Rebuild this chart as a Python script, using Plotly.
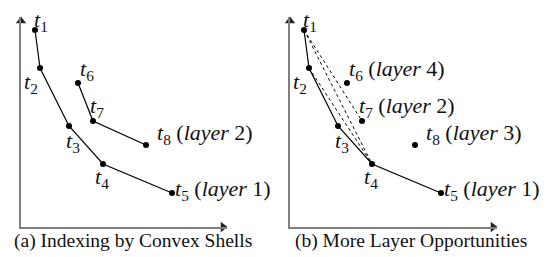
import plotly.graph_objects as go

# ---- data (same tuples in both panels) ----
names = ["t1", "t2", "t3", "t4", "t5", "t6", "t7", "t8"]
xs = [14, 19, 48, 82, 151, 57, 72, 125]
ys = [197, 159, 101, 63, 34, 144, 106, 82]

labels_a = {
    "t1": "<i>t</i><sub>1</sub>", "t2": "<i>t</i><sub>2</sub>", "t3": "<i>t</i><sub>3</sub>",
    "t4": "<i>t</i><sub>4</sub>", "t5": "<i>t</i><sub>5</sub> (<i>layer</i> 1)",
    "t6": "<i>t</i><sub>6</sub>", "t7": "<i>t</i><sub>7</sub>",
    "t8": "<i>t</i><sub>8</sub> (<i>layer</i> 2)",
}
labels_b = dict(labels_a)
labels_b.update({
    "t6": "<i>t</i><sub>6</sub> (<i>layer</i> 4)",
    "t7": "<i>t</i><sub>7</sub> (<i>layer</i> 2)",
    "t8": "<i>t</i><sub>8</sub> (<i>layer</i> 3)",
})

layer1 = ["t1", "t2", "t3", "t4", "t5"]
layer2_a = ["t6", "t7", "t8"]
dashed_b = [["t1", "t7"], ["t1", "t4"], ["t2", "t4"]]

captions = ["(a) Indexing by Convex Shells", "(b) More Layer Opportunities"]

# ---- styling (pixel offsets of labels relative to points) ----
label_off = {"t1": (-3, -9), "t2": (-18, 15), "t3": (-5, 16), "t4": (-10, 14),
             "t5": (1, -3), "t6": (0, -13), "t7": (-5, -14), "t8": (9, -11)}

W, H = 551, 257
idx = {n: i for i, n in enumerate(names)}
def px(n):
    return xs[idx[n]]
def py(n):
    return ys[idx[n]]

fig = go.Figure()
LABEL_FONT = dict(family="Liberation Serif", size=22, color="#111")

panels = [
    dict(xa="x", ya="y", x0=21, x1=227, labels=labels_a, solid=[layer1, layer2_a], dashed=[], cap_x=133),
    dict(xa="x2", ya="y2", x0=290, x1=497, labels=labels_b, solid=[layer1], dashed=dashed_b, cap_x=411),
]
ytop, ybot = 17, 227
annotations = []
for k, p in enumerate(panels):
    for seg in p["solid"]:
        fig.add_trace(go.Scatter(x=[px(n) for n in seg], y=[py(n) for n in seg], mode="lines",
                                 line=dict(color="black", width=1.2), xaxis=p["xa"], yaxis=p["ya"],
                                 showlegend=False, hoverinfo="skip"))
    for seg in p["dashed"]:
        fig.add_trace(go.Scatter(x=[px(n) for n in seg], y=[py(n) for n in seg], mode="lines",
                                 line=dict(color="black", width=1, dash="3px,3px"), xaxis=p["xa"], yaxis=p["ya"],
                                 showlegend=False, hoverinfo="skip"))
    fig.add_trace(go.Scatter(x=xs, y=ys, mode="markers", marker=dict(color="black", size=6),
                             xaxis=p["xa"], yaxis=p["ya"], showlegend=False, hoverinfo="skip"))
    xr = p["x1"] - p["x0"]
    yr = ybot - ytop
    # arrow heads
    fig.add_trace(go.Scatter(x=[xr - 4], y=[0], mode="markers",
                             marker=dict(symbol="triangle-right", size=9, color="#222"),
                             xaxis=p["xa"], yaxis=p["ya"], showlegend=False, hoverinfo="skip", cliponaxis=False))
    fig.add_trace(go.Scatter(x=[0], y=[yr - 4], mode="markers",
                             marker=dict(symbol="triangle-up", size=9, color="#222"),
                             xaxis=p["xa"], yaxis=p["ya"], showlegend=False, hoverinfo="skip", cliponaxis=False))
    for n in names:
        dx, dy = label_off[n]
        annotations.append(dict(x=px(n), y=py(n), xref=p["xa"], yref=p["ya"], text=p["labels"][n],
                                showarrow=False, xanchor="left", yanchor="middle",
                                xshift=dx, yshift=-dy, font=LABEL_FONT))
    annotations.append(dict(x=xr + 9, y=4, xref=p["xa"], yref=p["ya"], text="x", showarrow=False,
                            xanchor="center", yanchor="middle",
                            font=dict(family="Liberation Serif", size=19, color="#111")))
    annotations.append(dict(x=-6, y=yr + 5, xref=p["xa"], yref=p["ya"], text="y", showarrow=False,
                            xanchor="center", yanchor="middle",
                            font=dict(family="Liberation Serif", size=19, color="#111")))
    annotations.append(dict(x=p["cap_x"] / W, y=16 / H, xref="paper", yref="paper", text=captions[k],
                            showarrow=False, xanchor="center", yanchor="middle",
                            font=dict(family="Liberation Serif", size=19.5, color="#111")))

def axis_common(domain, rng):
    return dict(domain=domain, range=rng, showgrid=False, zeroline=False, showticklabels=False,
                ticks="", showline=True, linecolor="#7f7f7f", linewidth=2, fixedrange=True)

lay = dict(width=W, height=H, margin=dict(l=0, r=0, t=0, b=0), plot_bgcolor="white",
           paper_bgcolor="white", annotations=annotations)
for k, p in enumerate(panels):
    sx = "" if k == 0 else "2"
    lay["xaxis" + sx] = axis_common([p["x0"] / W, p["x1"] / W], [0, p["x1"] - p["x0"]])
    lay["xaxis" + sx]["anchor"] = "y" + sx
    lay["yaxis" + sx] = axis_common([(H - ybot) / H, (H - ytop) / H], [0, ybot - ytop])
    lay["yaxis" + sx]["anchor"] = "x" + sx
fig.update_layout(**lay)
fig.write_html("out.html", config={"displayModeBar": False},
               post_script="document.body.style.margin='0';document.body.style.padding='0';")
